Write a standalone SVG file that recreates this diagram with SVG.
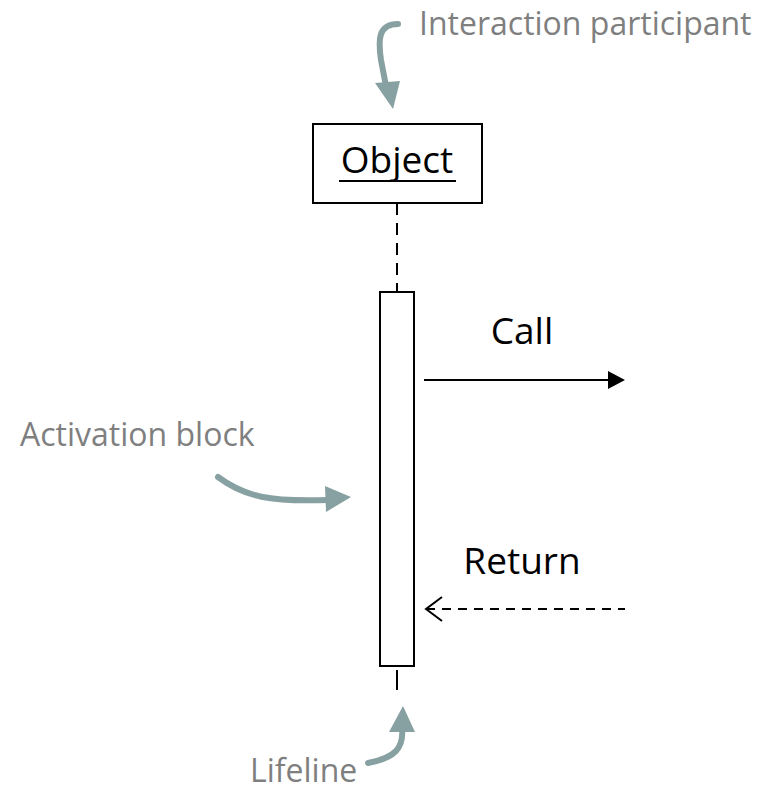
<svg xmlns="http://www.w3.org/2000/svg" width="766" height="791" viewBox="0 0 766 791">
<style>
.lbl{font-family:"Open Sans","Liberation Sans",sans-serif;font-size:32px;fill:#7f7f7f}
.blk{font-family:"Open Sans","Liberation Sans",sans-serif;font-size:37px;fill:#000}
.ann{fill:none;stroke:#87a0a2;stroke-width:6;stroke-linecap:round}
.head{fill:#87a0a2}
</style>
<rect width="766" height="791" fill="#fff"/>
<g id="object">
<rect x="313" y="124" width="169" height="79" fill="#fff" stroke="#000" stroke-width="2"/>
<text class="blk" x="397" y="173" text-anchor="middle" font-size="36">Object</text>
<line x1="339" y1="181" x2="456" y2="181" stroke="#000" stroke-width="2"/>
</g>
<g id="activation">
<rect x="380" y="292" width="34" height="374" fill="#fff" stroke="#000" stroke-width="2"/>
</g>
<g id="connectors">
<line x1="397" y1="203" x2="397" y2="292" stroke="#000" stroke-width="2" stroke-dasharray="12,8"/>
<line x1="397" y1="670" x2="397" y2="690" stroke="#000" stroke-width="2"/>
<line x1="424" y1="380" x2="610" y2="380" stroke="#000" stroke-width="2"/>
<polygon points="608,371 625,380 608,389" fill="#000"/>
<line x1="426" y1="609" x2="625" y2="609" stroke="#000" stroke-width="2" stroke-dasharray="9,7"/>
<polyline points="442,597 426,609 442,621" fill="none" stroke="#000" stroke-width="2"/>
<text class="blk" x="522" y="344" text-anchor="middle">Call</text>
<text class="blk" x="522" y="574" text-anchor="middle">Return</text>
</g>
<g id="interaction-participant">
<text class="lbl" x="419" y="35">Interaction participant</text>
<path class="ann" d="M398,24 C378,24 378,40 381,60 L386,86"/>
<polygon class="head" points="375,83 400,81 393,109"/>
</g>
<g id="activation-block">
<text class="lbl" x="20" y="446">Activation block</text>
<path class="ann" d="M218,477 C245,497 270,502 328,500"/>
<polygon class="head" points="325,486 351,497 326,512"/>
</g>
<g id="lifeline">
<text class="lbl" x="250" y="782" font-size="31">Lifeline</text>
<path class="ann" d="M368,763 C395,758 404,748 402,728"/>
<polygon class="head" points="389,732 415,732 403,706"/>
</g>
</svg>
